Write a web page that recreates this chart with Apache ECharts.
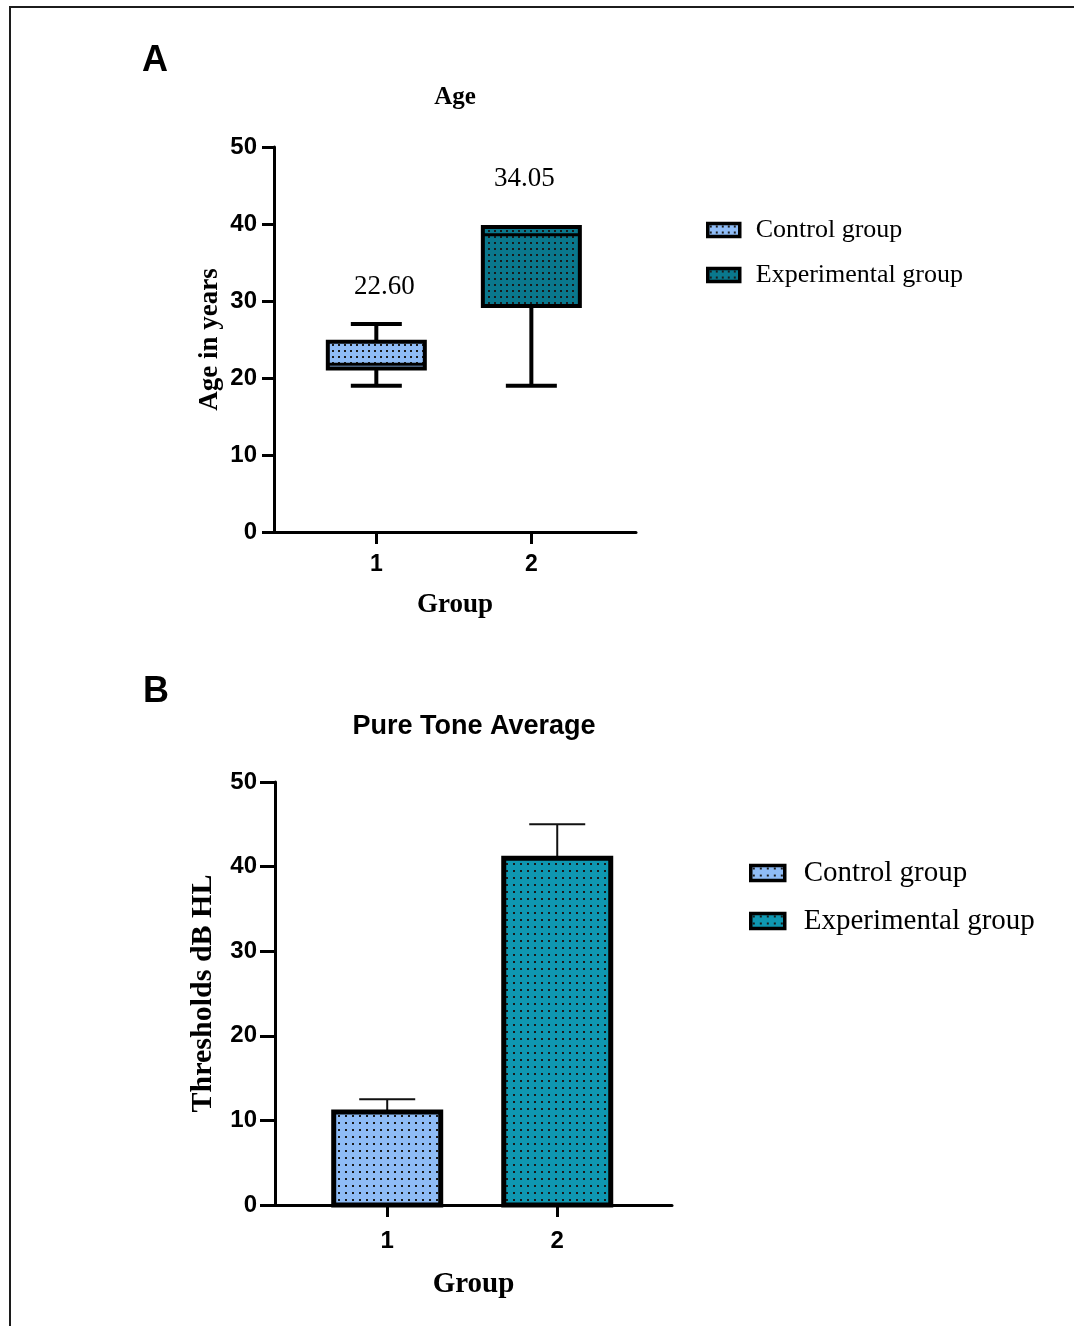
<!DOCTYPE html>
<html>
<head>
<meta charset="utf-8">
<title>Age and Pure Tone Average by group</title>
<script src="https://cdn.jsdelivr.net/npm/echarts@6/dist/echarts.min.js"></script>
<style>
  html, body { margin: 0; padding: 0; background: #ffffff; }
  #wrap { position: relative; width: 1074px; height: 1326px; overflow: hidden; }
  #chart { position: absolute; left: 0; top: 0; width: 1074px; height: 1326px; }
  #frame { position: absolute; left: 9px; top: 6px; width: 1200px; height: 1400px;
           border-left: 2px solid #1c1c1c; border-top: 2px solid #1c1c1c; pointer-events: none; }
</style>
</head>
<body>
<div id="wrap">
  <div id="chart"></div>
  <div id="frame"></div>
</div>
<script>
// ---- data ----
const groups = ['1', '2'];
const seriesNames = ['Control group', 'Experimental group'];
const ageTicks = [0, 10, 20, 30, 40, 50];
const ptaTicks = [0, 10, 20, 30, 40, 50];
// age distribution per group: [min, Q1, median, Q3, max]
const ageControl = [19, 21.25, 21.8, 24.7, 27];
const ageExperimental = [19, 29.35, 38.6, 39.6, 39.6];
const ageMeans = [22.60, 34.05];
// pure tone average thresholds (dB HL)
const ptaMeans = [11.0, 41.0];
const ptaSD = [1.5, 4.0];

// ---- styling helpers ----
const SANS = "'Liberation Sans', Arial, Helvetica, sans-serif";
const SERIF = "'Liberation Serif', 'Times New Roman', Times, serif";

function dotPattern(bg, step) {
  const c = document.createElement('canvas');
  c.width = step; c.height = step;
  const g = c.getContext('2d');
  g.fillStyle = bg; g.fillRect(0, 0, step, step);
  g.fillStyle = '#1a1a1a';
  g.fillRect(Math.floor(step / 2) - 1, Math.floor(step / 2) - 1, 2, 2);
  return { image: c, repeat: 'repeat' };
}
const LIGHT_BLUE = '#8fbcf6';
const patAgeCtl = dotPattern(LIGHT_BLUE, 6);
const patAgeExp = dotPattern('#0a788d', 6);
const patPtaCtl = dotPattern(LIGHT_BLUE, 7);
const patPtaExp = dotPattern('#0f97b1', 7);

// label placement above each box (px), per group position
const meanLabelNudge = { 1: [8, -37], 2: [-7, -48] };

function boxRenderer(fill) {
  return function (params, api) {
    const x = api.value(0);
    const lo = api.coord([x, api.value(1)]);
    const q1 = api.coord([x, api.value(2)]);
    const med = api.coord([x, api.value(3)]);
    const q3 = api.coord([x, api.value(4)]);
    const hi = api.coord([x, api.value(5)]);
    const mean = api.value(6);
    const cx = q1[0];
    const boxW = 97, capW = 51, lw = 4;
    const line = (x1, y1, x2, y2, w) => ({
      type: 'line', shape: { x1, y1, x2, y2 },
      style: { stroke: '#000', lineWidth: w, lineCap: 'butt' }
    });
    const children = [];
    // whiskers
    if (hi[1] < q3[1] - 1) {
      children.push(line(cx, q3[1], cx, hi[1], lw));
      children.push(line(cx - capW / 2, hi[1], cx + capW / 2, hi[1], lw));
    }
    if (lo[1] > q1[1] + 1) {
      children.push(line(cx, q1[1], cx, lo[1], lw));
      children.push(line(cx - capW / 2, lo[1], cx + capW / 2, lo[1], lw));
    }
    // box
    children.push({
      type: 'rect',
      shape: { x: cx - boxW / 2, y: q3[1], width: boxW, height: q1[1] - q3[1] },
      style: { fill: fill, stroke: '#000', lineWidth: lw }
    });
    // median
    children.push(line(cx - boxW / 2, med[1], cx + boxW / 2, med[1], 3));
    // mean label
    const nudge = meanLabelNudge[x] || [0, -40];
    children.push({
      type: 'text', x: cx + nudge[0], y: hi[1] + nudge[1],
      style: {
        text: mean.toFixed(2), font: '27px ' + SERIF, fill: '#000',
        align: 'center', verticalAlign: 'middle',
        textAlign: 'center', textVerticalAlign: 'middle'
      }
    });
    return { type: 'group', children };
  };
}

function barRenderer(fill) {
  return function (params, api) {
    const x = api.value(0);
    const m = api.value(1);
    const sd = api.value(2);
    const base = api.coord([x, 0]);
    const top = api.coord([x, m]);
    const err = api.coord([x, m + sd]);
    const cx = base[0];
    const barW = 107, capW = 56;
    return {
      type: 'group',
      children: [
        { type: 'line', shape: { x1: cx, y1: top[1], x2: cx, y2: err[1] },
          style: { stroke: '#111', lineWidth: 2 } },
        { type: 'line', shape: { x1: cx - capW / 2, y1: err[1], x2: cx + capW / 2, y2: err[1] },
          style: { stroke: '#111', lineWidth: 2 } },
        { type: 'rect',
          shape: { x: cx - barW / 2, y: top[1], width: barW, height: base[1] - top[1] },
          style: { fill: fill, stroke: '#000', lineWidth: 5 } }
      ]
    };
  };
}

function valueYAxis(gridIndex, ticks, name, nameGap, nameSize, labelSize, tickLen, labelMargin) {
  return {
    type: 'value', gridIndex,
    min: ticks[0], max: ticks[ticks.length - 1], interval: ticks[1] - ticks[0],
    name, nameLocation: 'middle', nameGap,
    nameTextStyle: { fontFamily: SERIF, fontWeight: 'bold', fontSize: nameSize, color: '#000' },
    axisLine: { show: true, lineStyle: { color: '#000', width: 3 } },
    axisTick: { show: true, inside: false, length: tickLen, lineStyle: { color: '#000', width: 3 } },
    axisLabel: { margin: labelMargin, fontFamily: SANS, fontWeight: 'bold', fontSize: labelSize, color: '#000',
                 padding: [3, 0, 0, 0] },
    splitLine: { show: false }
  };
}

function groupXAxis(gridIndex, nameGap, nameSize, labelSize, labelMargin) {
  const positions = groups.map((g, i) => i + 1);
  return {
    type: 'value', gridIndex,
    min: 0.34, max: 2.675,
    name: 'Group', nameLocation: 'middle', nameGap,
    nameTextStyle: { fontFamily: SERIF, fontWeight: 'bold', fontSize: nameSize, color: '#000' },
    axisLine: { show: true, onZero: false, lineStyle: { color: '#000', width: 3 } },
    axisTick: { show: true, length: 12, customValues: positions, lineStyle: { color: '#000', width: 3 } },
    axisLabel: {
      customValues: positions, margin: labelMargin,
      formatter: v => groups[Math.round(v) - 1],
      fontFamily: SANS, fontWeight: 'bold', fontSize: labelSize, color: '#000'
    },
    splitLine: { show: false }
  };
}

function legendFor(left, top, iconW, iconH, fontSize, lineH, gap, textPad, fills) {
  return {
    orient: 'vertical', left, top, padding: 0, icon: 'rect',
    itemWidth: iconW, itemHeight: iconH, itemGap: gap, selectedMode: false,
    itemStyle: { borderColor: '#000', borderWidth: 3.5 },
    data: seriesNames.map((n, i) => ({
      name: n, itemStyle: { color: fills[i], borderColor: '#000', borderWidth: 3.5 }
    })),
    textStyle: { fontFamily: SERIF, fontSize, color: '#000', lineHeight: lineH, padding: [0, 0, 0, textPad] }
  };
}

const chart = echarts.init(document.getElementById('chart'), null, { renderer: 'canvas' });

chart.setOption({
  animation: false,
  backgroundColor: '#ffffff',
  grid: [
    { left: 274, top: 147, width: 362, height: 385 },
    { left: 275, top: 782, width: 397, height: 423 }
  ],
  xAxis: [
    groupXAxis(0, 60, 27, 23, 21),
    groupXAxis(1, 65, 29, 24, 24)
  ],
  yAxis: [
    valueYAxis(0, ageTicks, 'Age in years', 50, 27, 24, 12, 17),
    valueYAxis(1, ptaTicks, 'Thresholds dB HL', 57, 30, 24, 15, 18)
  ],
  legend: [
    legendFor(706, 215, 32, 13, 26, 30, 15, 11, [patAgeCtl, patAgeExp]),
    legendFor(749, 857, 34, 15, 29, 32, 16, 14, [patPtaCtl, patPtaExp])
  ],
  graphic: [
    { type: 'text', x: 155, y: 61, style: { text: 'A', font: 'bold 36px ' + SANS, fill: '#000',
      align: 'center', verticalAlign: 'middle', textAlign: 'center', textVerticalAlign: 'middle' } },
    { type: 'text', x: 156, y: 692, style: { text: 'B', font: 'bold 36px ' + SANS, fill: '#000',
      align: 'center', verticalAlign: 'middle', textAlign: 'center', textVerticalAlign: 'middle' } },
    { type: 'text', x: 455, y: 98, style: { text: 'Age', font: 'bold 25px ' + SERIF, fill: '#000',
      align: 'center', verticalAlign: 'middle', textAlign: 'center', textVerticalAlign: 'middle' } },
    { type: 'text', x: 474, y: 727, style: { text: 'Pure Tone Average', font: 'bold 27px ' + SANS, fill: '#000',
      align: 'center', verticalAlign: 'middle', textAlign: 'center', textVerticalAlign: 'middle' } }
  ],
  series: [
    {
      type: 'custom', name: seriesNames[0], xAxisIndex: 0, yAxisIndex: 0, clip: false, z: 3,
      itemStyle: { color: patAgeCtl },
      encode: { x: 0, y: [1, 2, 3, 4, 5] },
      data: [[1].concat(ageControl, [ageMeans[0]])],
      renderItem: boxRenderer(patAgeCtl)
    },
    {
      type: 'custom', name: seriesNames[1], xAxisIndex: 0, yAxisIndex: 0, clip: false, z: 3,
      itemStyle: { color: patAgeExp },
      encode: { x: 0, y: [1, 2, 3, 4, 5] },
      data: [[2].concat(ageExperimental, [ageMeans[1]])],
      renderItem: boxRenderer(patAgeExp)
    },
    {
      type: 'custom', name: seriesNames[0], xAxisIndex: 1, yAxisIndex: 1, clip: false, z: 3,
      itemStyle: { color: patPtaCtl },
      encode: { x: 0, y: [1] },
      data: [[1, ptaMeans[0], ptaSD[0]]],
      renderItem: barRenderer(patPtaCtl)
    },
    {
      type: 'custom', name: seriesNames[1], xAxisIndex: 1, yAxisIndex: 1, clip: false, z: 3,
      itemStyle: { color: patPtaExp },
      encode: { x: 0, y: [1] },
      data: [[2, ptaMeans[1], ptaSD[1]]],
      renderItem: barRenderer(patPtaExp)
    }
  ]
});
</script>
</body>
</html>
